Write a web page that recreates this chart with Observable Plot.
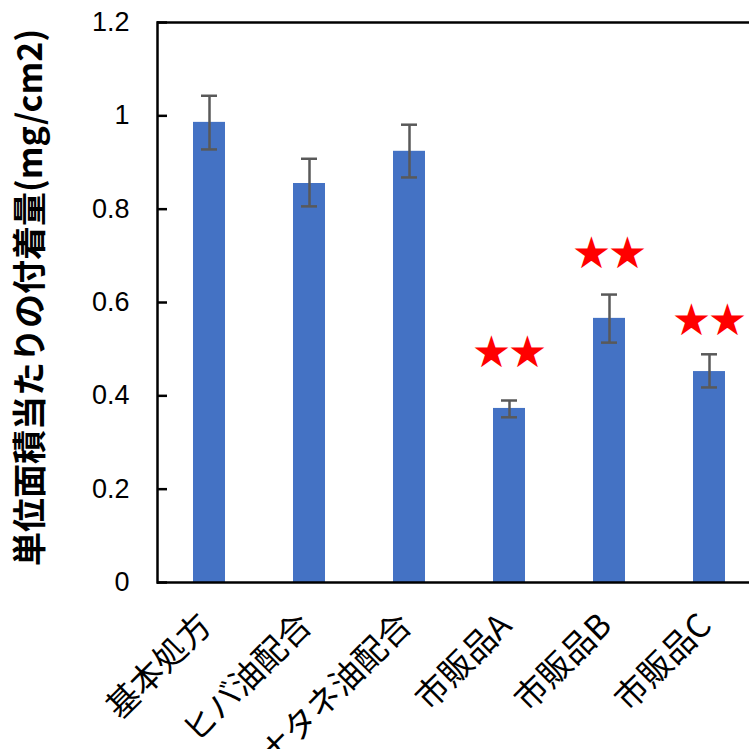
<!DOCTYPE html>
<html>
<head>
<meta charset="utf-8">
<script src="https://cdn.jsdelivr.net/npm/d3@7"></script>
<script src="https://cdn.jsdelivr.net/npm/@observablehq/plot@0.6"></script>
<style>
  html, body { margin: 0; padding: 0; background: #fff; }
  #chart svg { display: block; }
</style>
</head>
<body>
<div id="chart"></div>
<script>
const categories = ["基本処方", "ヒバ油配合", "ナタネ油配合", "市販品A", "市販品B", "市販品C"];
const means = [0.986, 0.855, 0.924, 0.373, 0.566, 0.452];
const errLow = [0.928, 0.806, 0.868, 0.354, 0.514, 0.418];
const errHigh = [1.043, 0.908, 0.981, 0.390, 0.617, 0.489];
const starLabels = ["", "", "", "★", "★", "★"];
const starY = [null, null, null, 0.493, 0.705, 0.561];
const yTicks = [0, 0.2, 0.4, 0.6, 0.8, 1.0, 1.2];
const yTickLabels = ["0", "0.2", "0.4", "0.6", "0.8", "1", "1.2"];
const yTitle = "単位面積当たりの付着量(mg/cm2)";

const rows = categories.map((c, i) => ({cat: c, v: means[i], lo: errLow[i], hi: errHigh[i], star: starLabels[i], sy: starY[i]}));
const starRows = rows.filter(d => d.star);

const font = "'Liberation Sans', Arial, 'Noto Sans CJK JP', sans-serif";
const jp = "'Noto Sans CJK JP', 'Liberation Sans', sans-serif";

const chart = Plot.plot({
  width: 749,
  height: 749,
  marginLeft: 157,
  marginRight: 0,
  marginTop: 22,
  marginBottom: 167,
  style: {fontFamily: font, background: "#fff", color: "#000"},
  x: {type: "band", domain: categories, range: [157, 760], padding: 0, axis: null},
  y: {domain: [0, 1.2], range: [582, 22]},
  marks: [
    Plot.barY(rows, {x: "cat", y: "v", fill: "#4472C4", insetLeft: 34, insetRight: 34}),
    Plot.ruleX(rows, {x: "cat", y1: "lo", y2: "hi", stroke: "#595959", strokeWidth: 2.5}),
    Plot.tickY(rows, {x: "cat", y: "lo", stroke: "#595959", strokeWidth: 2.5, inset: 42}),
    Plot.tickY(rows, {x: "cat", y: "hi", stroke: "#595959", strokeWidth: 2.5, inset: 42}),
    Plot.text(starRows, {x: "cat", y: "sy", text: "star", dx: -18, fill: "#ff0000", fontSize: 44, fontFamily: "'DejaVu Sans', sans-serif"}),
    Plot.text(starRows, {x: "cat", y: "sy", text: "star", dx: 18, fill: "#ff0000", fontSize: 44, fontFamily: "'DejaVu Sans', sans-serif"}),
    Plot.ruleY([yTicks[0], yTicks[yTicks.length - 1]], {stroke: "#000", strokeWidth: 2.5}),
    Plot.frame({anchor: "left", stroke: "#000", strokeWidth: 2.5}),
    Plot.axisY({ticks: yTicks, tickFormat: (d) => yTickLabels[yTicks.indexOf(d)], tickSize: -10, tickPadding: 38, fontSize: 27, stroke: "#000", strokeWidth: 2.5, strokeOpacity: 1, label: null}),
    Plot.text(categories, {x: d => d, frameAnchor: "bottom", rotate: -45, textAnchor: "end", lineAnchor: "bottom", dx: 4, dy: 45, fontSize: 33, fontFamily: jp, fill: "#000"}),
    Plot.text([yTitle], {frameAnchor: "left", rotate: -90, textAnchor: "middle", dx: -126, dy: -5, fontSize: 34, fontWeight: "bold", fontFamily: jp, fill: "#000"})
  ]
});
document.getElementById("chart").appendChild(chart);
</script>
</body>
</html>
